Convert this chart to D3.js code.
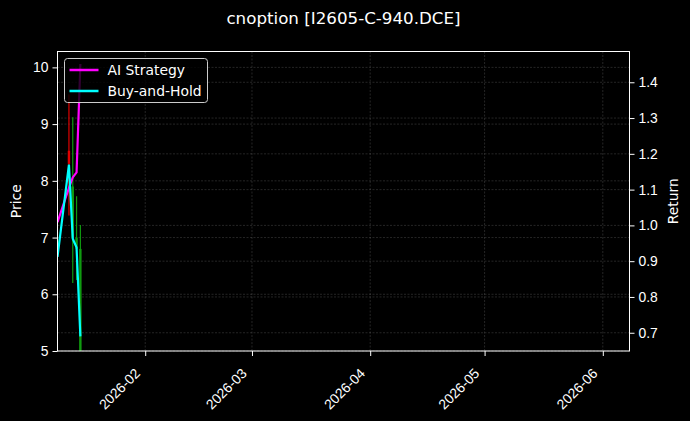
<!DOCTYPE html>
<html lang="en">
<head>
<meta charset="utf-8">
<title>cnoption [I2605-C-940.DCE]</title>
<script src="https://cdn.jsdelivr.net/npm/d3@7"></script>
<style>
  body { margin: 0; background: #000; }
  svg { display: block; font-family: "DejaVu Sans", sans-serif; }
</style>
</head>
<body>
<script>
// data
var dates = ["2026-01-09", "2026-01-12", "2026-01-13", "2026-01-14", "2026-01-15"];
var opens = [6.95, 8.30, 7.90, 7.00, 6.80];
var highs = [7.10, 9.52, 9.12, 7.73, 7.22];
var lows = [6.70, 7.39, 6.20, 6.25, 4.50];
var closes = [6.90, 8.53, 7.00, 6.80, 4.90];
var aiReturn = [1.009, 1.105, 1.134, 1.148, 1.451];
var bhReturn = [0.912, 1.170, 0.963, 0.938, 0.690];
var monthTicks = ["2026-02-01", "2026-03-01", "2026-04-01", "2026-05-01", "2026-06-01"];
var priceTicks = [5, 6, 7, 8, 9, 10];
var returnTicks = [0.7, 0.8, 0.9, 1.0, 1.1, 1.2, 1.3, 1.4];

var width = 690, height = 421;
var axLeft = 57.5, axRight = 629.5, axTop = 51.5, axBottom = 351;
var parse = d3.utcParse("%Y-%m-%d");

var svg = d3.select("body").append("svg")
  .attr("width", width).attr("height", height);
svg.append("rect").attr("width", width).attr("height", height).attr("fill", "#000");

var x = d3.scaleUtc()
  .domain([parse("2026-01-09"), parse("2026-06-08")])
  .range([axLeft, axRight]);
var yPrice = d3.scaleLinear().domain([5, 10.28]).range([axBottom, axTop]);
var yRet = d3.scaleLinear().domain([0.649, 1.486]).range([axBottom, axTop]);

svg.append("clipPath").attr("id", "plot")
  .append("rect").attr("x", axLeft).attr("y", axTop)
  .attr("width", axRight - axLeft).attr("height", axBottom - axTop);

/** grid **/
var grid = svg.append("g").attr("stroke", "#b0b0b0").attr("stroke-opacity", 0.35)
  .attr("stroke-width", 0.6).attr("stroke-dasharray", "2,1.5");
grid.selectAll(".gx").data(monthTicks).enter().append("line")
  .attr("x1", d => x(parse(d))).attr("x2", d => x(parse(d)))
  .attr("y1", axTop).attr("y2", axBottom);
grid.selectAll(".gp").data(priceTicks).enter().append("line")
  .attr("x1", axLeft).attr("x2", axRight)
  .attr("y1", d => yPrice(d)).attr("y2", d => yPrice(d));
grid.selectAll(".gr").data(returnTicks).enter().append("line")
  .attr("x1", axLeft).attr("x2", axRight)
  .attr("y1", d => yRet(d)).attr("y2", d => yRet(d));

/** candles **/
var candles = dates.map((d, i) => ({
  date: parse(d), o: opens[i], h: highs[i], l: lows[i], c: closes[i]
}));
var plot = svg.append("g").attr("clip-path", "url(#plot)");
var colour = d => d.c >= d.o ? "#e00000" : "#109a10";
plot.selectAll(".wick").data(candles).enter().append("line")
  .attr("x1", d => x(d.date)).attr("x2", d => x(d.date))
  .attr("y1", d => yPrice(d.h)).attr("y2", d => yPrice(d.l))
  .attr("stroke", colour).attr("stroke-width", 1.2);
plot.selectAll(".body").data(candles).enter().append("rect")
  .attr("x", d => x(d.date) - 1.2).attr("width", 2.4)
  .attr("y", d => yPrice(Math.max(d.o, d.c)))
  .attr("height", d => Math.abs(yPrice(d.o) - yPrice(d.c)))
  .attr("fill", colour);

/** return lines **/
var line = d3.line().x(d => x(d.date)).y(d => yRet(d.v));
var aiData = dates.map((d, i) => ({ date: parse(d), v: aiReturn[i] }));
var bhData = dates.map((d, i) => ({ date: parse(d), v: bhReturn[i] }));
plot.append("path").datum(aiData).attr("d", line)
  .attr("fill", "none").attr("stroke", "#ff00ff").attr("stroke-width", 2.2);
plot.append("path").datum(bhData).attr("d", line)
  .attr("fill", "none").attr("stroke", "#00ffff").attr("stroke-width", 2.2);

/** axes **/
var fs = "13.9px";
var xAxis = svg.append("g").attr("transform", "translate(0," + axBottom + ")")
  .call(d3.axisBottom(x).tickValues(monthTicks.map(parse))
    .tickFormat(d3.utcFormat("%Y-%m")).tickSize(5).tickPadding(4));
xAxis.selectAll("text")
  .attr("font-size", fs).attr("fill", "#fff")
  .attr("text-anchor", "end")
  .attr("dy", "0.7em")
  .attr("transform", "translate(-18,10) rotate(-45)");

var yAxisL = svg.append("g").attr("transform", "translate(" + axLeft + ",0)")
  .call(d3.axisLeft(yPrice).tickValues(priceTicks).tickFormat(d3.format("d"))
    .tickSize(5).tickPadding(4));
yAxisL.selectAll("text").attr("font-size", fs).attr("fill", "#fff");

var yAxisR = svg.append("g").attr("transform", "translate(" + axRight + ",0)")
  .call(d3.axisRight(yRet).tickValues(returnTicks).tickFormat(d3.format(".1f"))
    .tickSize(5).tickPadding(4));
yAxisR.selectAll("text").attr("font-size", fs).attr("fill", "#fff");

svg.selectAll(".domain").remove();
svg.selectAll(".tick line").attr("stroke", "#fff");

svg.append("rect").attr("x", axLeft).attr("y", axTop)
  .attr("width", axRight - axLeft).attr("height", axBottom - axTop)
  .attr("fill", "none").attr("stroke", "#fff").attr("stroke-width", 1);

/** labels **/
svg.append("text").attr("x", (axLeft + axRight) / 2).attr("y", 24)
  .attr("text-anchor", "middle").attr("fill", "#fff").attr("font-size", "16.7px")
  .text("cnoption [I2605-C-940.DCE]");
svg.append("text").attr("transform", "translate(21," + (axTop + axBottom) / 2 + ") rotate(-90)")
  .attr("text-anchor", "middle").attr("fill", "#fff").attr("font-size", fs)
  .text("Price");
svg.append("text").attr("transform", "translate(678," + (axTop + axBottom) / 2 + ") rotate(-90)")
  .attr("text-anchor", "middle").attr("fill", "#fff").attr("font-size", fs)
  .text("Return");

/** legend **/
var legend = svg.append("g").attr("transform", "translate(64.5,58.5)");
legend.append("rect").attr("width", 143).attr("height", 44).attr("rx", 3)
  .attr("fill", "#000").attr("fill-opacity", 0.8)
  .attr("stroke", "#ccc").attr("stroke-width", 1);
var entries = [["AI Strategy", "#ff00ff"], ["Buy-and-Hold", "#00ffff"]];
legend.selectAll(".entry").data(entries).enter().append("g")
  .each(function (d, i) {
    var g = d3.select(this).attr("transform", "translate(0," + (11.5 + i * 21) + ")");
    g.append("line").attr("x1", 5).attr("x2", 34)
      .attr("stroke", d[1]).attr("stroke-width", 2.5);
    g.append("text").attr("x", 43).attr("dy", "0.35em")
      .attr("fill", "#fff").attr("font-size", fs).text(d[0]);
  });
</script>
</body>
</html>
